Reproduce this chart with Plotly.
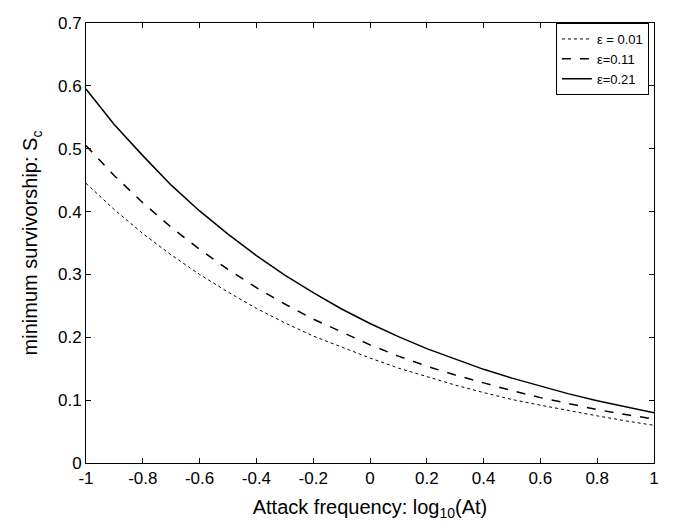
import plotly.graph_objects as go

# attack frequency, log10(At)
x = [-1.0, -0.9, -0.8, -0.7, -0.6, -0.5, -0.4, -0.3, -0.2, -0.1, 0.0,
     0.1, 0.2, 0.3, 0.4, 0.5, 0.6, 0.7, 0.8, 0.9, 1.0]

# minimum survivorship Sc for each epsilon
sc_001 = [0.445, 0.403, 0.365, 0.331, 0.300, 0.272, 0.246, 0.223, 0.202, 0.184, 0.167,
          0.151, 0.137, 0.124, 0.112, 0.101, 0.092, 0.083, 0.075, 0.067, 0.060]
sc_011 = [0.505, 0.457, 0.414, 0.375, 0.340, 0.308, 0.279, 0.253, 0.229, 0.208, 0.188,
          0.170, 0.154, 0.140, 0.127, 0.115, 0.104, 0.094, 0.085, 0.077, 0.070]
sc_021 = [0.595, 0.538, 0.489, 0.442, 0.401, 0.364, 0.330, 0.299, 0.271, 0.245, 0.222,
          0.201, 0.182, 0.165, 0.149, 0.135, 0.122, 0.110, 0.099, 0.089, 0.080]

x_ticks = [-1, -0.8, -0.6, -0.4, -0.2, 0, 0.2, 0.4, 0.6, 0.8, 1]
x_labels = ['-1', '-0.8', '-0.6', '-0.4', '-0.2', '0', '0.2', '0.4', '0.6', '0.8', '1']
y_ticks = [0, 0.1, 0.2, 0.3, 0.4, 0.5, 0.6, 0.7]
y_labels = ['0', '0.1', '0.2', '0.3', '0.4', '0.5', '0.6', '0.7']

fig = go.Figure()
fig.add_trace(go.Scatter(x=x, y=sc_001, mode='lines', name='ε = 0.01',
                         line=dict(color='black', width=1, dash='dot')))
fig.add_trace(go.Scatter(x=x, y=sc_011, mode='lines', name='ε=0.11',
                         line=dict(color='black', width=1.5, dash='dash')))
fig.add_trace(go.Scatter(x=x, y=sc_021, mode='lines', name='ε=0.21',
                         line=dict(color='black', width=1.5)))

axis_style = dict(
    showline=True, linecolor='black', linewidth=1, mirror='ticks',
    ticks='inside', ticklen=5, tickcolor='black',
    showgrid=False, zeroline=False,
    tickfont=dict(size=17, color='black'),
    ticklabeloverflow='allow',
)

# page body has an 8px margin, so the figure is sized to fit inside the window
fig.update_layout(
    width=657, height=513,
    margin=dict(l=78, r=8, t=6, b=58),
    plot_bgcolor='white', paper_bgcolor='white',
    font=dict(family='Arial, Liberation Sans, sans-serif', color='black'),
    xaxis=dict(range=[-1, 1], tickvals=x_ticks, ticktext=x_labels,
               title=dict(text='Attack frequency: log<sub>10</sub>(At)',
                          font=dict(size=20), standoff=12),
               **axis_style),
    yaxis=dict(range=[0, 0.7], tickvals=y_ticks, ticktext=y_labels,
               title=dict(text='minimum survivorship: S<sub>c</sub>',
                          font=dict(size=20), standoff=14),
               **axis_style),
    legend=dict(x=0.991, y=1.0, xanchor='right', yanchor='top',
                bordercolor='black', borderwidth=1, bgcolor='white',
                font=dict(size=13), tracegroupgap=0),
    showlegend=True,
)

fig.write_html("out.html")
